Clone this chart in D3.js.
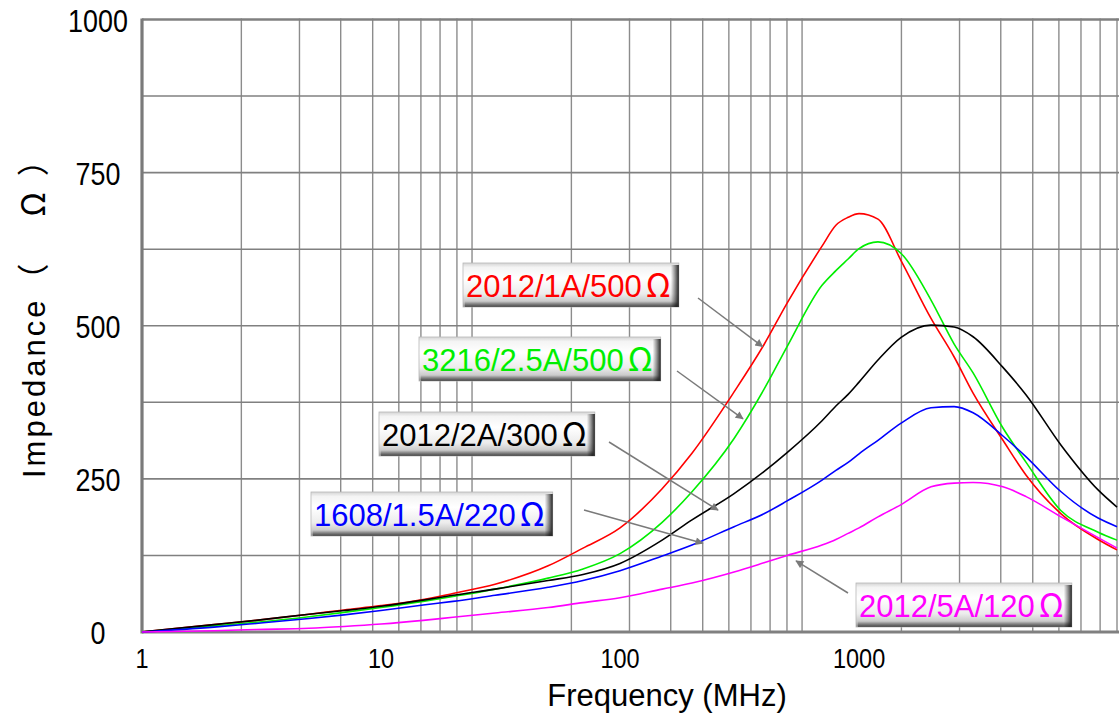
<!DOCTYPE html>
<html>
<head>
<meta charset="utf-8">
<script src="https://cdn.jsdelivr.net/npm/d3@7"></script>
<style>
  html, body { margin: 0; padding: 0; background: #ffffff; }
  svg { display: block; }
</style>
</head>
<body>
<svg id="chart" width="1119" height="717"></svg>
<script>
// Frequency sample points (MHz)
const freqMHz = [1, 2, 3, 5, 7, 10, 15, 20, 30, 50, 70, 100, 150, 200, 300, 400, 500, 700, 800, 900,
                 1000, 1200, 1500, 2000, 2500, 3000, 4000, 5000, 7000, 10000, 12000];

// Impedance (Ω) of each ferrite bead at the sample points
const z2012_1A = [0, 12, 19, 29, 36, 43, 53, 63, 78, 108, 137, 170, 234, 292, 392, 469, 537, 630, 664, 677,
                  683, 674, 606, 512, 449, 390, 313, 256, 193, 151, 134];
const z3216_25A = [0, 10, 16, 25, 32, 40, 50, 58, 70, 88, 103, 128, 179, 229, 316, 396, 466, 566, 590, 609,
                   626, 637, 618, 542, 470, 423, 333, 277, 198, 163, 150];
const z2012_2A = [0, 12, 19, 29, 35, 42, 52, 60, 70, 84, 94, 112, 150, 183, 226, 262, 293, 345, 369, 388,
                  408, 444, 481, 501, 498, 482, 432, 387, 305, 232, 204];
const z1608_15A = [0, 8, 14, 22, 28, 35, 44, 50, 60, 73, 84, 100, 124, 142, 172, 193, 214, 248, 264, 277,
                   291, 313, 341, 366, 368, 358, 320, 286, 229, 186, 172];
const z2012_5A = [0, 2, 4, 6, 9, 13, 19, 24, 31, 40, 48, 56, 70, 80, 98, 113, 125, 142, 151, 161,
                  170, 188, 208, 237, 243, 244, 237, 221, 188, 154, 137];

// Part names and line colours
const partNames = ["2012/1A/500", "3216/2.5A/500", "2012/2A/300", "1608/1.5A/220", "2012/5A/120"];
const partColors = ["#ff0000", "#00ee00", "#000000", "#0000ff", "#ff00ff"];
const partValues = [z2012_1A, z3216_25A, z2012_2A, z1608_15A, z2012_5A];

// Point each callout arrow aims at: [frequency MHz, impedance Ω]
const calloutTips = [[395, 466], [327, 348], [257, 199], [222, 145], [545, 116]];

// Axis tick labels
const yTickValues = [0, 250, 500, 750, 1000];
const xTickValues = [1, 10, 100, 1000];

// ---------- layout ----------
const plot = { left: 142, right: 1117, top: 19.5, bottom: 632 };
// callout box top-left corners and arrow tails (pixels)
const calloutBoxes = [[463, 263], [419, 337], [379, 412], [311, 492], [856, 583]];
const calloutTails = [[698, 298], [677, 371], [609, 442], [584, 510], [848, 593]];

const svg = d3.select("#chart");

const x = d3.scaleLog().domain([1, 12000]).range([plot.left, plot.right]);
const y = d3.scaleLinear().domain([0, 1000]).range([plot.bottom, plot.top]);
// background log grid paper (1–900)
const gx = d3.scaleLog().domain([1, 900]).range([plot.left, plot.right]);

const defs = svg.append("defs");

// ---------- grid ----------
const gridVals = [];
[1, 10, 100].forEach(d => { for (let k = 1; k <= 9; k++) gridVals.push(d * k); });

const grid = svg.append("g");
grid.selectAll("line.v").data(gridVals.filter(v => v > 1)).join("line")
  .attr("class", "v")
  .attr("x1", d => gx(d)).attr("x2", d => gx(d))
  .attr("y1", plot.top - 1).attr("y2", plot.bottom)
  .attr("stroke", "#8c8c8c").attr("stroke-width", 1.4);

grid.selectAll("line.h").data(d3.range(125, 1000, 125)).join("line")
  .attr("class", "h")
  .attr("x1", plot.left).attr("x2", plot.right + 2)
  .attr("y1", d => y(d)).attr("y2", d => y(d))
  .attr("stroke", "#808080").attr("stroke-width", 1.6);

// frame: top, left, bottom
svg.append("line").attr("x1", plot.left).attr("x2", plot.right + 2)
  .attr("y1", plot.top).attr("y2", plot.top)
  .attr("stroke", "#808080").attr("stroke-width", 2.6);
svg.append("line").attr("x1", plot.left).attr("x2", plot.left)
  .attr("y1", plot.top - 1).attr("y2", plot.bottom + 1.5)
  .attr("stroke", "#7a7a7a").attr("stroke-width", 3.2);
svg.append("line").attr("x1", plot.left).attr("x2", plot.right + 2)
  .attr("y1", plot.bottom).attr("y2", plot.bottom)
  .attr("stroke", "#808080").attr("stroke-width", 3);

// ---------- axis labels ----------
const sans = "'Liberation Sans', Arial, sans-serif";
const cjk = "'Noto Sans CJK JP', sans-serif";
const condense = 0.84;   // narrow numerals

svg.append("g").selectAll("text").data(yTickValues).join("text")
  .attr("transform", d => `translate(98,${y(d) + 12}) scale(${condense},1)`)
  .attr("text-anchor", "middle")
  .style("font-family", sans).style("font-size", "32px").attr("fill", "#000")
  .text(d => d);

svg.append("g").selectAll("text").data(xTickValues).join("text")
  .attr("transform", d => `translate(${x(d)},668) scale(${condense},1)`)
  .attr("text-anchor", "middle")
  .style("font-family", sans).style("font-size", "28px").attr("fill", "#000")
  .text(d => d);

svg.append("text")
  .attr("x", 667).attr("y", 706)
  .attr("text-anchor", "middle")
  .style("font-family", sans).style("font-size", "31px")
  .attr("fill", "#000")
  .text("Frequency (MHz)");

const yTitle = svg.append("text")
  .attr("transform", "translate(45,478) rotate(-90)")
  .style("font-family", sans).style("font-size", "31px")
  .attr("fill", "#000");
yTitle.append("tspan").style("letter-spacing", "3px").text("Impedance");
yTitle.append("tspan").attr("dx", 2).style("font-family", cjk).style("font-size", "32px").text("（");
yTitle.append("tspan").attr("dx", 47).style("font-family", cjk).style("font-size", "32px").text("Ω");
yTitle.append("tspan").attr("dx", 16).style("font-family", cjk).style("font-size", "32px").text("）");

// ---------- curves ----------
const series = partNames.map((name, i) => ({
  name, color: partColors[i],
  points: freqMHz.map((f, j) => ({ f, z: partValues[i][j] }))
}));

const line = d3.line()
  .x(d => x(d.f)).y(d => y(d.z))
  .curve(d3.curveMonotoneX);

svg.append("g").selectAll("path").data(series).join("path")
  .attr("d", d => line(d.points))
  .attr("fill", "none")
  .attr("stroke", d => d.color)
  .attr("stroke-width", 1.6)
  .attr("stroke-linejoin", "round");

// ---------- callouts ----------
defs.append("marker")
  .attr("id", "arrowhead")
  .attr("viewBox", "0 0 10 10").attr("refX", 9).attr("refY", 5)
  .attr("markerWidth", 10).attr("markerHeight", 8).attr("markerUnits", "userSpaceOnUse")
  .attr("orient", "auto")
  .append("path").attr("d", "M0,0 L10,5 L0,10 z").attr("fill", "#7a7a7a");

const bodyGrad = defs.append("linearGradient").attr("id", "bevelBody")
  .attr("x1", 0).attr("y1", 0).attr("x2", 0).attr("y2", 1);
[[0, "#d4d4d4"], [0.1, "#f4f4f4"], [0.35, "#ffffff"], [0.7, "#ececec"], [0.88, "#c8c8c8"], [1, "#7e7e7e"]]
  .forEach(([o, c]) => bodyGrad.append("stop").attr("offset", o).attr("stop-color", c));

const rightGrad = defs.append("linearGradient").attr("id", "bevelRight")
  .attr("x1", 0).attr("y1", 0).attr("x2", 1).attr("y2", 0);
[[0, "#000", 0], [0.5, "#000", 0.4], [1, "#000", 0.85]]
  .forEach(([o, c, a]) => rightGrad.append("stop").attr("offset", o).attr("stop-color", c).attr("stop-opacity", a));

const bottomGrad = defs.append("linearGradient").attr("id", "bevelBottom")
  .attr("x1", 0).attr("y1", 0).attr("x2", 0).attr("y2", 1);
[[0, "#000", 0], [1, "#000", 0.45]]
  .forEach(([o, c, a]) => bottomGrad.append("stop").attr("offset", o).attr("stop-color", c).attr("stop-opacity", a));

const callouts = svg.append("g");
series.forEach((s, i) => {
  const [bx, by] = calloutBoxes[i];
  const [tx, ty] = calloutTails[i];
  const [tf, tz] = calloutTips[i];

  callouts.append("line")
    .attr("x1", tx).attr("y1", ty)
    .attr("x2", x(tf)).attr("y2", y(tz))
    .attr("stroke", "#7a7a7a").attr("stroke-width", 1.5)
    .attr("marker-end", "url(#arrowhead)");

  const g = callouts.append("g");
  const box = g.append("rect").attr("x", bx).attr("y", by).attr("height", 44)
    .attr("fill", "url(#bevelBody)").attr("stroke", "#b8b8b8").attr("stroke-width", 0.8);
  const right = g.append("rect").attr("y", by + 2).attr("width", 8).attr("height", 42)
    .attr("fill", "url(#bevelRight)");
  const bottom = g.append("rect").attr("x", bx + 2).attr("y", by + 38).attr("height", 6)
    .attr("fill", "url(#bevelBottom)");

  const label = g.append("text")
    .attr("x", bx + 3).attr("y", by + 34)
    .style("font-family", sans).style("font-size", "31px")
    .attr("fill", s.color);
  const latin = label.append("tspan").text(s.name);
  label.append("tspan").attr("dx", 4).style("font-family", cjk).style("font-size", "33px").text("Ω");

  const w = latin.node().getComputedTextLength() + 40;
  box.attr("width", w);
  right.attr("x", bx + w - 8);
  bottom.attr("width", w - 4);
});
</script>
</body>
</html>
